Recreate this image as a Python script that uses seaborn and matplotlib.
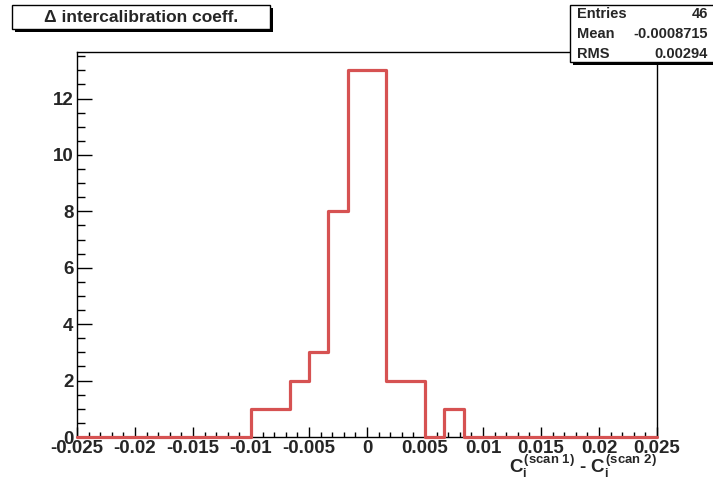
"""Histogram of the difference between two intercalibration scans (ROOT look)."""

import matplotlib.pyplot as plt
import numpy as np
import pandas as pd
import seaborn as sns
from matplotlib.patches import Rectangle
from matplotlib.ticker import FuncFormatter, MultipleLocator

# 30 bins spanning [-0.025, 0.025]
x_lo, x_hi, n_bins = -0.025, 0.025, 30
bin_counts = [0, 0, 0, 0, 0, 0, 0, 0, 0, 1,
              1, 2, 3, 8, 13, 13, 2, 2, 0, 1,
              0, 0, 0, 0, 0, 0, 0, 0, 0, 0]
stat_names = ["Entries", "Mean", "RMS"]
stat_values = ["46", "-0.0008715", "0.00294"]
title_text = "\u0394 intercalibration coeff."
x_label = r"$C_i^{(scan\ 1)}$ - $C_i^{(scan\ 2)}$"

W, H = 713, 480
RED = "#d65252"

sns.set_style("ticks")
plt.rcParams.update(
    {
        "font.family": ["Liberation Sans", "DejaVu Sans"],
        "font.weight": "bold",
        "mathtext.fontset": "custom",
        "mathtext.rm": "Liberation Sans:bold",
        "mathtext.it": "Liberation Sans:bold",
        "mathtext.bf": "Liberation Sans:bold",
        "mathtext.sf": "Liberation Sans:bold",
        "axes.linewidth": 1.0,
        "axes.edgecolor": "black",
    }
)

edges = np.linspace(x_lo, x_hi, n_bins + 1)
df = pd.DataFrame({"delta": (edges[:-1] + edges[1:]) / 2, "n": bin_counts})


def px(x, y):
    """Pixel position (from top-left) to figure fraction."""
    return x / W, 1 - y / H


fig = plt.figure(figsize=(W / 100, H / 100), dpi=100)
left, bottom = px(77, 437)
right, top = px(657, 52)
ax = fig.add_axes([left, bottom, right - left, top - bottom])

sns.histplot(
    data=df, x="delta", weights="n", bins=n_bins, binrange=(x_lo, x_hi),
    element="step", fill=False, color=RED, linewidth=2.3, ax=ax,
)
for line in ax.lines:
    line.set_clip_on(False)
    line.set_zorder(3)

ax.set_xlim(x_lo, x_hi)
ax.set_ylim(0, 13.65)
ax.set_xlabel("")
ax.set_ylabel("")

ax.xaxis.set_major_locator(MultipleLocator(0.005))
ax.xaxis.set_minor_locator(MultipleLocator(0.001))
ax.yaxis.set_major_locator(MultipleLocator(2))
ax.yaxis.set_minor_locator(MultipleLocator(0.5))


def fmt(v, _pos):
    v = round(v, 4)
    return "0" if v == 0 else f"{v:g}"


ax.xaxis.set_major_formatter(FuncFormatter(fmt))
ax.tick_params(which="both", direction="in", top=False, right=False,
               color="black", width=1.0, labelsize=13.5, pad=2.5)
ax.tick_params(axis="y", which="major", length=10.8)
ax.tick_params(axis="y", which="minor", length=5.8)
ax.tick_params(axis="x", which="major", length=7.2)
ax.tick_params(axis="x", which="minor", length=3.6)
for lab in ax.get_xticklabels() + ax.get_yticklabels():
    lab.set_fontweight("bold")

# axis title sits under the right end of the x axis, as ROOT puts it
ax.text(1.0, -(480 - 437) / 385, x_label, transform=ax.transAxes,
        ha="right", va="bottom", fontsize=13.5)


def shadow_box(x0, y0, x1, y1):
    """ROOT-like pave: white box with black edge and a drop shadow."""
    fx0, fy1 = px(x0, y1)
    fx1, fy0 = px(x1, y0)
    dx, dy = 3 / W, 3 / H
    fig.add_artist(Rectangle((fx0 + dx, fy1 - dy), fx1 - fx0, fy0 - fy1,
                             transform=fig.transFigure, facecolor="black",
                             edgecolor="black", lw=0, zorder=5))
    fig.add_artist(Rectangle((fx0, fy1), fx1 - fx0, fy0 - fy1,
                             transform=fig.transFigure, facecolor="white",
                             edgecolor="black", lw=1.0, zorder=6))


# title pave
shadow_box(12, 5, 270, 29)
fig.text(*px(141, 17.5), title_text, ha="center", va="center", fontsize=12.5,
         fontweight="bold", zorder=7)

# statistics pave
shadow_box(570, 5, 720, 62)
for i, (name, val) in enumerate(zip(stat_names, stat_values)):
    y = 14.5 + i * 19.5
    fig.text(*px(577, y), name, ha="left", va="center", fontsize=10.5,
             fontweight="bold", zorder=7)
    fig.text(*px(708, y), val, ha="right", va="center", fontsize=10.5,
             fontweight="bold", zorder=7)

fig.savefig("out.png", dpi=100)
